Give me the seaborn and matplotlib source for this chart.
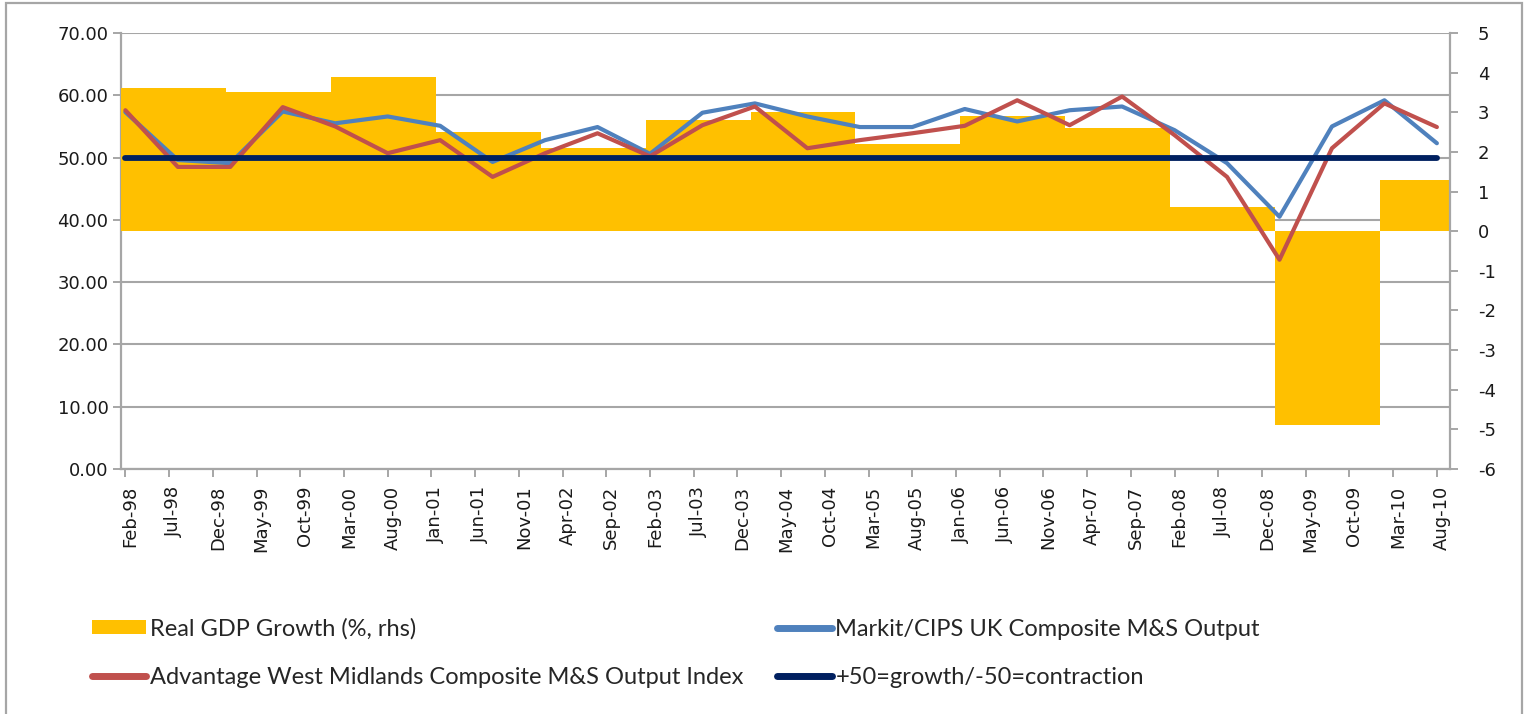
import numpy as np
import pandas as pd
import matplotlib
matplotlib.use("Agg")
import matplotlib.pyplot as plt
import seaborn as sns
from matplotlib.patches import Rectangle, Patch
from matplotlib.lines import Line2D
from matplotlib.transforms import ScaledTranslation

# Adatok
gdp_years = [1998, 1999, 2000, 2001, 2002, 2003, 2004, 2005, 2006, 2007, 2008, 2009, 2010]
gdp_growth = [3.6, 3.5, 3.9, 2.5, 2.1, 2.8, 3.0, 2.2, 2.9, 2.6, 0.6, -4.9, 1.3]

pmi_dates = pd.date_range("1998-02-01", "2010-08-01", freq="6MS")
markit = [57.3, 49.6, 49.1, 57.4, 55.5, 56.6, 55.1, 49.3, 52.8, 54.9, 50.6, 57.2, 58.7,
          56.6, 54.9, 54.9, 57.8, 55.8, 57.6, 58.2, 54.4, 49.1, 40.5, 55.0, 59.2, 52.3]
awm = [57.6, 48.5, 48.5, 58.1, 55.0, 50.7, 52.8, 46.9, 50.7, 53.9, 50.2, 55.2, 58.2,
       51.5, 52.8, 53.9, 55.1, 59.2, 55.2, 59.8, 53.6, 46.9, 33.6, 51.5, 58.7, 54.9]
threshold = 50

tick_dates = pd.date_range("1998-02-01", "2010-08-01", freq="5MS")

# Színek
c_bar = "#FFC000"
c_blue = "#4F81BD"
c_red = "#C0504D"
c_navy = "#002060"
c_grey = "#A6A6A6"


def month_index(dates):
    return np.array([(d.year - 1998) * 12 + d.month - 2 for d in dates])


sns.set_theme(style="white")
plt.rcParams["font.family"] = ["DejaVu Sans"]
plt.rcParams["axes.unicode_minus"] = False

fig = plt.figure(figsize=(15.24, 7.14), dpi=100)
rect = [121 / 1524, 1 - 469 / 714, (1450 - 121) / 1524, (469 - 33) / 714]
ax = fig.add_axes(rect)          # bal skála, rács
ax2 = ax.twinx()                 # oszlopok, jobb skála
ax3 = ax.twinx()                 # vonalak, bal skála

# Rács
ax.set_ylim(0, 70)
ax.set_yticks(np.arange(0, 71, 10))
ax.set_yticklabels([f"{v:.2f}" for v in np.arange(0, 71, 10)])
ax.yaxis.grid(True, color=c_grey, linewidth=1.5)
ax.set_axisbelow(True)

# Oszlopok
bar_x = [(y - 1998) * 12 - 0.5 for y in gdp_years]
ax2.bar(bar_x, gdp_growth, width=12, align="edge", color=c_bar, linewidth=0)
ax2.set_ylim(-6, 5)
ax2.set_yticks(np.arange(-6, 6, 1))

# Vonalak
xp = month_index(pmi_dates)
df = pd.DataFrame({"x": xp, "markit": markit, "awm": awm})
sns.lineplot(data=df, x="x", y="markit", ax=ax3, color=c_blue, linewidth=3)
sns.lineplot(data=df, x="x", y="awm", ax=ax3, color=c_red, linewidth=3)
ax3.plot(xp, [threshold] * len(xp), color=c_navy, linewidth=4.2)
ax3.set_ylim(0, 70)
ax3.set_yticks([])
ax3.set_ylabel("")
ax3.set_xlabel("")

for a in (ax, ax2, ax3):
    a.set_xlim(-0.5, 151.5)
    for s in a.spines.values():
        s.set_visible(False)

ax.spines["left"].set_visible(True)
ax.spines["bottom"].set_visible(True)
ax2.spines["right"].set_visible(True)
for a, side in ((ax, "left"), (ax, "bottom"), (ax2, "right")):
    a.spines[side].set_color(c_grey)
    a.spines[side].set_linewidth(1.6)

ax.set_xticks(month_index(tick_dates))
ax.set_xticklabels([d.strftime("%b-%y") for d in tick_dates], rotation=90)
ax.tick_params(axis="both", direction="out", length=6, width=1.4, color=c_grey,
               labelsize=13, labelcolor="#1a1a1a", left=True, bottom=True, pad=6)
ax.tick_params(axis="y", pad=3)
ax2.tick_params(axis="y", direction="out", length=6, width=1.4, color=c_grey,
                labelsize=13, labelcolor="#1a1a1a", right=True, pad=14)
ax3.tick_params(axis="x", bottom=False, labelbottom=False)
ax2.tick_params(axis="x", bottom=False, labelbottom=False)
ax.set_xlabel("")
ax.set_ylabel("")
ax2.set_ylabel("")

off = ScaledTranslation(5 / 100, 0, fig.dpi_scale_trans)
for lab in ax.get_xticklabels():
    lab.set_transform(lab.get_transform() + off)

# Jelmagyarázat
handles = [
    Patch(facecolor=c_bar, edgecolor="none"),
    Line2D([], [], color=c_red, linewidth=5),
    Line2D([], [], color=c_blue, linewidth=5),
    Line2D([], [], color=c_navy, linewidth=5),
]
labels = [
    "Real GDP Growth (%, rhs)",
    "Advantage West Midlands Composite M&S Output Index",
    "Markit/CIPS UK Composite M&S Output",
    "+50=growth/-50=contraction",
]
leg = fig.legend(handles, labels, ncol=2, loc="upper left",
                 bbox_to_anchor=(92 / 1524, 1 - 618 / 714), frameon=False,
                 prop={"family": "Lato", "size": 17}, handlelength=2.3,
                 handleheight=0.55, handletextpad=0.15, columnspacing=1.45,
                 labelspacing=1.15, borderaxespad=0, borderpad=0)

# Keret
fig.patches.append(Rectangle((6 / 1524, -0.02), (1522 - 6) / 1524, 1.02 - 3 / 714,
                             transform=fig.transFigure, fill=False,
                             edgecolor=c_grey, linewidth=1.6))

fig.savefig("out.png", dpi=100)
